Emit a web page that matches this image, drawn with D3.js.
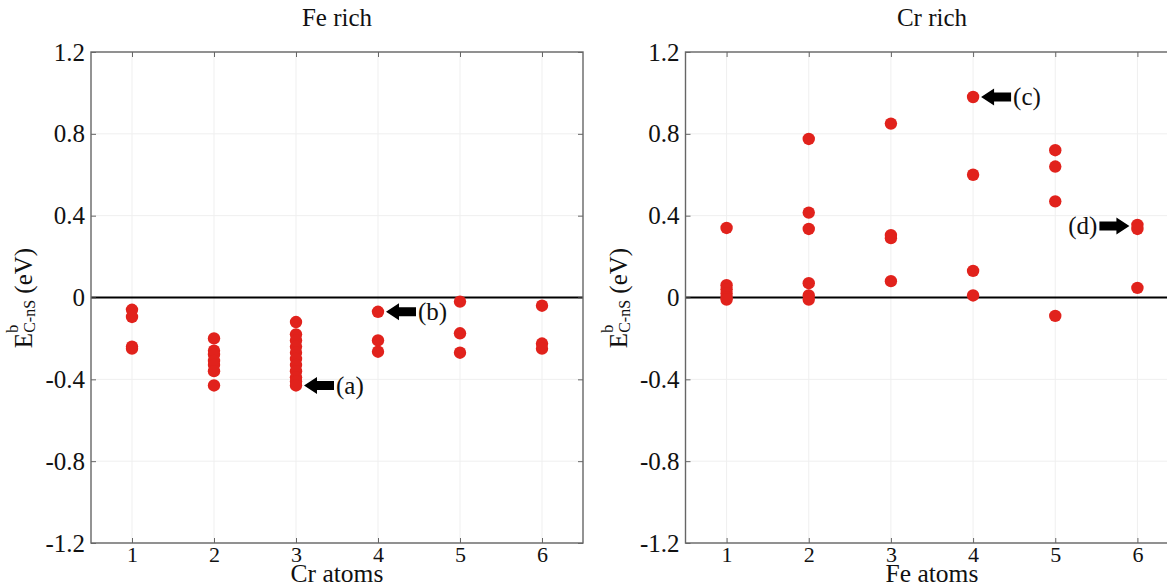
<!DOCTYPE html>
<html><head><meta charset="utf-8">
<script src="https://cdn.jsdelivr.net/npm/d3@7"></script>
<style>
body{margin:0;background:#fff}
svg{display:block}
text{font-family:'Liberation Serif','Times New Roman',serif;fill:#111}
</style>
</head><body><svg id="chart" width="1167" height="588"></svg>
<script>
// ---- data ----
const categories = [1, 2, 3, 4, 5, 6];
const xTickLabels = ["1", "2", "3", "4", "5", "6"];
const yTickValues = [-1.2, -0.8, -0.4, 0, 0.4, 0.8, 1.2];
const yTickLabels = ["-1.2", "-0.8", "-0.4", "0", "0.4", "0.8", "1.2"];
const panelTitles = ["Fe rich", "Cr rich"];
const xAxisTitles = ["Cr atoms", "Fe atoms"];

// Fe rich: values per number of Cr atoms
const feRichValues = [
  [-0.06, -0.095, -0.24, -0.25],
  [-0.20, -0.26, -0.28, -0.31, -0.33, -0.36, -0.43],
  [-0.12, -0.18, -0.21, -0.24, -0.27, -0.30, -0.33, -0.36, -0.39, -0.41, -0.43],
  [-0.07, -0.21, -0.265],
  [-0.02, -0.175, -0.27],
  [-0.04, -0.225, -0.25]
];
// Cr rich: values per number of Fe atoms
const crRichValues = [
  [0.34, 0.06, 0.04, 0.02, 0.0, -0.01],
  [0.775, 0.415, 0.335, 0.07, 0.01, -0.01],
  [0.85, 0.305, 0.29, 0.08],
  [0.98, 0.60, 0.13, 0.01],
  [0.72, 0.64, 0.47, -0.09],
  [0.355, 0.335, 0.047]
];

// annotations (arrows with labels)
const annotLabels = ["(a)", "(b)", "(c)", "(d)"];
const annotPanel = [0, 0, 1, 1];
const annotX = [3, 4, 4, 6];
const annotY = [-0.43, -0.07, 0.98, 0.35];
const annotDir = ["left", "left", "left", "right"];

// ---- drawing ----
const svg = d3.select("#chart");
const plotTop = 52, plotBottom = 543;
const panels = [
  {left: 91, width: 492, values: feRichValues},
  {left: 685.5, width: 493, values: crRichValues}
];
const frameColor = "#666";
const dotColor = "#e1221c";

const y = d3.scaleLinear().domain([-1.2, 1.2]).range([plotBottom, plotTop]);

panels.forEach((p, pi) => {
  const x = d3.scaleLinear().domain([0.5, 6.5]).range([p.left, p.left + p.width]);
  p.x = x;
  const g = svg.append("g");

  // grid
  g.append("g").selectAll("line").data(categories).join("line")
    .attr("x1", d => x(d)).attr("x2", d => x(d)).attr("y1", plotTop).attr("y2", plotBottom)
    .attr("stroke", "#efefef").attr("stroke-width", 1);
  g.append("g").selectAll("line").data(yTickValues).join("line")
    .attr("x1", p.left).attr("x2", p.left + p.width).attr("y1", d => y(d)).attr("y2", d => y(d))
    .attr("stroke", "#efefef").attr("stroke-width", 1);

  // zero line
  g.append("line").attr("x1", p.left).attr("x2", p.left + p.width)
    .attr("y1", y(0)).attr("y2", y(0)).attr("stroke", "#000").attr("stroke-width", 2);

  // frame
  g.append("rect").attr("x", p.left).attr("y", plotTop).attr("width", p.width).attr("height", plotBottom - plotTop)
    .attr("fill", "none").attr("stroke", frameColor).attr("stroke-width", 1.4);

  // axes (inward ticks)
  const yl = d3.axisLeft(y).tickValues(yTickValues)
    .tickFormat((d, i) => yTickLabels[i]).tickSizeInner(-5).tickSizeOuter(0).tickPadding(6);
  const ga = g.append("g").attr("transform", `translate(${p.left},0)`).call(yl);
  ga.select(".domain").remove();
  ga.selectAll(".tick line").attr("stroke", frameColor);
  ga.selectAll(".tick text").attr("font-size", 25).attr("font-family", "'Liberation Serif',serif").attr("fill", "#111");

  const yr = d3.axisRight(y).tickValues(yTickValues).tickFormat("").tickSizeInner(-5).tickSizeOuter(0);
  const gr = g.append("g").attr("transform", `translate(${p.left + p.width},0)`).call(yr);
  gr.select(".domain").remove();
  gr.selectAll(".tick line").attr("stroke", frameColor);

  const xb = d3.axisBottom(x).tickValues(categories)
    .tickFormat((d, i) => xTickLabels[i]).tickSizeInner(-5).tickSizeOuter(0).tickPadding(3);
  const gb = g.append("g").attr("transform", `translate(0,${plotBottom})`).call(xb);
  gb.select(".domain").remove();
  gb.selectAll(".tick line").attr("stroke", frameColor);
  gb.selectAll(".tick text").attr("font-size", 22).attr("font-family", "'Liberation Serif',serif").attr("fill", "#111");

  const xt = d3.axisTop(x).tickValues(categories).tickFormat("").tickSizeInner(-5).tickSizeOuter(0);
  const gt = g.append("g").attr("transform", `translate(0,${plotTop})`).call(xt);
  gt.select(".domain").remove();
  gt.selectAll(".tick line").attr("stroke", frameColor);

  // points
  const pts = [];
  p.values.forEach((arr, ci) => arr.forEach(v => pts.push({c: categories[ci], v})));
  g.append("g").selectAll("circle").data(pts).join("circle")
    .attr("cx", d => x(d.c)).attr("cy", d => y(d.v)).attr("r", 6.2)
    .attr("fill", dotColor);

  // titles
  const cx = p.left + p.width / 2;
  g.append("text").attr("x", cx).attr("y", 26).attr("text-anchor", "middle")
    .attr("font-size", 25).text(panelTitles[pi]);
  g.append("text").attr("x", cx).attr("y", 582).attr("text-anchor", "middle")
    .attr("font-size", 25.5).text(xAxisTitles[pi]);

  // y-axis label
  const lab = g.append("text")
    .attr("transform", `translate(${p.left - 59},298) rotate(-90)`)
    .attr("text-anchor", "middle").attr("font-size", 25);
  lab.append("tspan").text("E");
  lab.append("tspan").attr("font-size", 16).attr("dy", -14).text("b");
  lab.append("tspan").attr("font-size", 16).attr("dx", -8).attr("dy", 17).text("C-nS");
  lab.append("tspan").attr("dy", -3).text("\u00a0(eV)");
});

// annotations
annotLabels.forEach((lbl, i) => {
  const p = panels[annotPanel[i]];
  const px = p.x(annotX[i]), py = y(annotY[i]);
  const s = annotDir[i] === "left" ? 1 : -1;
  const tip = px + s * 8, len = 30, headL = 13, headH = 8.5, shaftH = 4.5;
  const path = d3.path();
  path.moveTo(tip, py);
  path.lineTo(tip + s * headL, py - headH);
  path.lineTo(tip + s * headL, py - shaftH);
  path.lineTo(tip + s * len, py - shaftH);
  path.lineTo(tip + s * len, py + shaftH);
  path.lineTo(tip + s * headL, py + shaftH);
  path.lineTo(tip + s * headL, py + headH);
  path.closePath();
  svg.append("path").attr("d", path.toString()).attr("fill", "#000");
  svg.append("text").attr("x", tip + s * (len + 2)).attr("y", py).attr("dy", "0.33em")
    .attr("text-anchor", s > 0 ? "start" : "end").attr("font-size", 25).text(lbl);
});
</script>
</body></html>
